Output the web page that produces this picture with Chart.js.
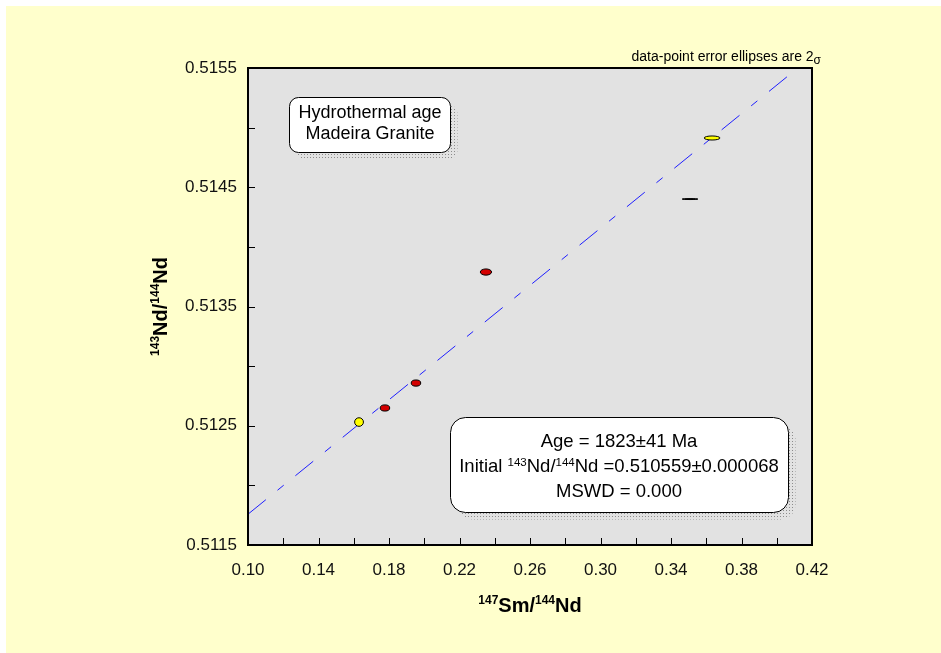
<!DOCTYPE html>
<html>
<head>
<meta charset="utf-8">
<script src="https://cdn.jsdelivr.net/npm/chart.js@4.4.0/dist/chart.umd.min.js"></script>
<style>
  html, body { margin: 0; padding: 0; background: #ffffff; }
  #wrap { width: 941px; height: 653px; }
</style>
</head>
<body>
<div id="wrap"><canvas id="c" width="941" height="653"></canvas></div>
<script>
// 147Sm/144Nd of the analysed fractions
const smNd = [0.1630, 0.1777, 0.1953, 0.2350, 0.3633, 0.3508];
// 143Nd/144Nd of the same fractions
const ndNd = [0.512531, 0.512649, 0.512858, 0.513789, 0.514913, 0.514401];
// 2-sigma half-widths of the error ellipses
const smNdErr = [0.0025, 0.0027, 0.0027, 0.0032, 0.0045, 0.0045];
const ndNdErr = [0.000036, 0.000026, 0.000026, 0.000026, 0.000017, 0.000004];
// ellipse fill per fraction
const fillKind = ['yellow', 'red', 'red', 'red', 'yellow', 'black'];

// isochron result
const ageMa = 1823;
const ageErrMa = 41;
const initialRatio = 0.510559;
const initialErr = 0.000068;
const mswd = 0.000;
const lambdaSm = 6.54e-12; // decay constant of 147Sm, per year

// axis ticks
const xTickVals = [0.10, 0.14, 0.18, 0.22, 0.26, 0.30, 0.34, 0.38, 0.42];
const yTickVals = [0.5115, 0.5125, 0.5135, 0.5145, 0.5155];
const xMinorStep = 0.02;
const yMinorStep = 0.0005;

const FILLS = { yellow: '#ffff00', red: '#d40000', black: '#000000' };
const FONT = '"Liberation Sans", Arial, sans-serif';

const slope = Math.exp(lambdaSm * ageMa * 1e6) - 1;
const lineXs = [0.10, 0.42];
const isochron = lineXs.map(x => ({ x: x, y: initialRatio + slope * x }));
const points = smNd.map((x, i) => ({ x: x, y: ndNd[i] }));

function roundRectPath(ctx, x, y, w, h, r) {
  ctx.beginPath();
  ctx.moveTo(x + r, y);
  ctx.lineTo(x + w - r, y);
  ctx.arcTo(x + w, y, x + w, y + r, r);
  ctx.lineTo(x + w, y + h - r);
  ctx.arcTo(x + w, y + h, x + w - r, y + h, r);
  ctx.lineTo(x + r, y + h);
  ctx.arcTo(x, y + h, x, y + h - r, r);
  ctx.lineTo(x, y + r);
  ctx.arcTo(x, y, x + r, y, r);
  ctx.closePath();
}

function shadowBox(ctx, x, y, w, h, r) {
  const off = 7;
  ctx.save();
  roundRectPath(ctx, x + off, y + off, w, h, r);
  ctx.clip();
  ctx.fillStyle = '#8c8c8c';
  for (let py = Math.floor(y); py < y + h + off + 2; py += 3) {
    for (let px = Math.floor(x); px < x + w + off + 2; px += 3) {
      ctx.fillRect(px, py, 1, 1);
    }
  }
  ctx.restore();
  roundRectPath(ctx, x, y, w, h, r);
  ctx.fillStyle = '#ffffff';
  ctx.fill();
  ctx.lineWidth = 1;
  ctx.strokeStyle = '#000000';
  ctx.stroke();
}

// text made of runs; runs flagged sup / sub are drawn smaller and shifted
function richText(ctx, runs, x, y, size, opts) {
  const o = Object.assign({ bold: false, align: 'center', supSize: Math.round(size * 0.6), supRise: size * 0.38, subDrop: size * 0.25, color: '#000' }, opts || {});
  const fontFor = r => (o.bold ? 'bold ' : '') + ((r.sup || r.sub) ? o.supSize : size) + 'px ' + FONT;
  let total = 0;
  const widths = runs.map(r => { ctx.font = fontFor(r); const w = ctx.measureText(r.t).width; total += w; return w; });
  let cx = o.align === 'center' ? x - total / 2 : (o.align === 'right' ? x - total : x);
  ctx.fillStyle = o.color;
  ctx.textAlign = 'left';
  ctx.textBaseline = 'alphabetic';
  runs.forEach((r, i) => {
    ctx.font = fontFor(r);
    const dy = r.sup ? -o.supRise : (r.sub ? o.subDrop : 0);
    ctx.fillText(r.t, cx, y + dy);
    cx += widths[i];
  });
}

const framePlugin = {
  id: 'frame',
  beforeDraw(chart) {
    const ctx = chart.ctx, a = chart.chartArea;
    ctx.save();
    ctx.fillStyle = '#ffffff';
    ctx.fillRect(0, 0, chart.width, chart.height);
    ctx.fillStyle = '#ffffcc';
    ctx.fillRect(6, 6, chart.width - 6, chart.height - 6);
    ctx.fillStyle = '#e2e2e2';
    ctx.fillRect(a.left, a.top, a.right - a.left, a.bottom - a.top);
    ctx.restore();
  },
  afterDatasetsDraw(chart) {
    const ctx = chart.ctx;
    const xs = chart.scales.x, ys = chart.scales.y;
    // error ellipses
    ctx.save();
    smNd.forEach((xv, i) => {
      const cx = xs.getPixelForValue(xv);
      const cy = ys.getPixelForValue(ndNd[i]);
      const rx = Math.abs(xs.getPixelForValue(xv + smNdErr[i]) - cx);
      const ry = Math.abs(ys.getPixelForValue(ndNd[i] + ndNdErr[i]) - cy);
      ctx.beginPath();
      ctx.ellipse(cx, cy, rx, ry, 0, 0, Math.PI * 2);
      ctx.fillStyle = FILLS[fillKind[i]];
      ctx.fill();
      ctx.lineWidth = 1;
      ctx.strokeStyle = '#000000';
      ctx.stroke();
    });
    ctx.restore();
  },
  afterDraw(chart) {
    const ctx = chart.ctx, a = chart.chartArea;
    const xs = chart.scales.x, ys = chart.scales.y;
    ctx.save();
    // inward tick marks
    ctx.strokeStyle = '#000000';
    ctx.lineWidth = 1;
    ctx.beginPath();
    const nx = Math.round((xs.max - xs.min) / xMinorStep);
    for (let i = 1; i < nx; i++) {
      const px = Math.round(xs.getPixelForValue(xs.min + i * xMinorStep)) + 0.5;
      ctx.moveTo(px, a.bottom);
      ctx.lineTo(px, a.bottom - 7);
    }
    const ny = Math.round((ys.max - ys.min) / yMinorStep);
    for (let i = 1; i < ny; i++) {
      const py = Math.round(ys.getPixelForValue(ys.min + i * yMinorStep)) + 0.5;
      ctx.moveTo(a.left, py);
      ctx.lineTo(a.left + 7, py);
    }
    ctx.stroke();
    // plot frame
    ctx.lineWidth = 2;
    ctx.strokeRect(a.left, a.top, a.right - a.left, a.bottom - a.top);

    // axis titles
    richText(ctx, [{ t: '147', sup: true }, { t: 'Sm/' }, { t: '144', sup: true }, { t: 'Nd' }],
      (a.left + a.right) / 2, 612, 20, { bold: true, supSize: 12, supRise: 8 });
    ctx.save();
    ctx.translate(167, (a.top + a.bottom) / 2);
    ctx.rotate(-Math.PI / 2);
    richText(ctx, [{ t: '143', sup: true }, { t: 'Nd/' }, { t: '144', sup: true }, { t: 'Nd' }],
      0, 0, 20, { bold: true, supSize: 12, supRise: 8 });
    ctx.restore();

    // note on the ellipses
    richText(ctx, [{ t: 'data-point error ellipses are 2' }, { t: '\u03c3', sub: true }],
      821, 61, 14, { align: 'right', supSize: 12, subDrop: 3 });

    // sample label
    shadowBox(ctx, 289.5, 97.5, 161, 55, 9);
    richText(ctx, [{ t: 'Hydrothermal age' }], 370, 118, 18);
    richText(ctx, [{ t: 'Madeira Granite' }], 370, 139, 18);

    // isochron result
    shadowBox(ctx, 450.5, 417.5, 338, 95, 15);
    richText(ctx, [{ t: 'Age = ' + ageMa + '\u00b1' + ageErrMa + ' Ma' }], 619, 447, 18.5);
    richText(ctx, [{ t: 'Initial ' }, { t: '143', sup: true }, { t: 'Nd/' }, { t: '144', sup: true },
      { t: 'Nd =' + initialRatio.toFixed(6) + '\u00b1' + initialErr.toFixed(6) }], 619, 472, 18.5,
      { supSize: 11.5, supRise: 6 });
    richText(ctx, [{ t: 'MSWD = ' + mswd.toFixed(3) }], 619, 497, 18.5);
    ctx.restore();
  }
};

const tickFont = { family: FONT, size: 17 };

new Chart(document.getElementById('c'), {
  type: 'scatter',
  data: {
    datasets: [
      {
        type: 'line',
        data: isochron,
        borderColor: '#1f1fff',
        borderWidth: 1,
        borderDash: [23, 15, 8, 15],
        pointRadius: 0,
        fill: false,
        tension: 0
      },
      {
        data: points,
        pointRadius: 0,
        pointHoverRadius: 0
      }
    ]
  },
  options: {
    responsive: false,
    animation: false,
    events: [],
    layout: { padding: { left: 0, top: 68, right: 129, bottom: 0 } },
    plugins: { legend: { display: false }, tooltip: { enabled: false } },
    scales: {
      x: {
        type: 'linear',
        min: 0.10,
        max: 0.42,
        afterFit(s) { s.height = 108; },
        afterBuildTicks(s) { s.ticks = xTickVals.map(v => ({ value: v })); },
        grid: { display: false, drawTicks: false },
        border: { display: false },
        ticks: { padding: 15, color: '#111111', font: tickFont, maxRotation: 0, autoSkip: false,
                 callback: v => Number(v).toFixed(2) }
      },
      y: {
        type: 'linear',
        min: 0.5115,
        max: 0.5155,
        afterFit(s) { s.width = 248; },
        afterBuildTicks(s) { s.ticks = yTickVals.map(v => ({ value: v })); },
        grid: { display: false, drawTicks: false },
        border: { display: false },
        ticks: { padding: 11, color: '#111111', font: tickFont, autoSkip: false,
                 callback: v => Number(v).toFixed(4) }
      }
    }
  },
  plugins: [framePlugin]
});
</script>
</body>
</html>
